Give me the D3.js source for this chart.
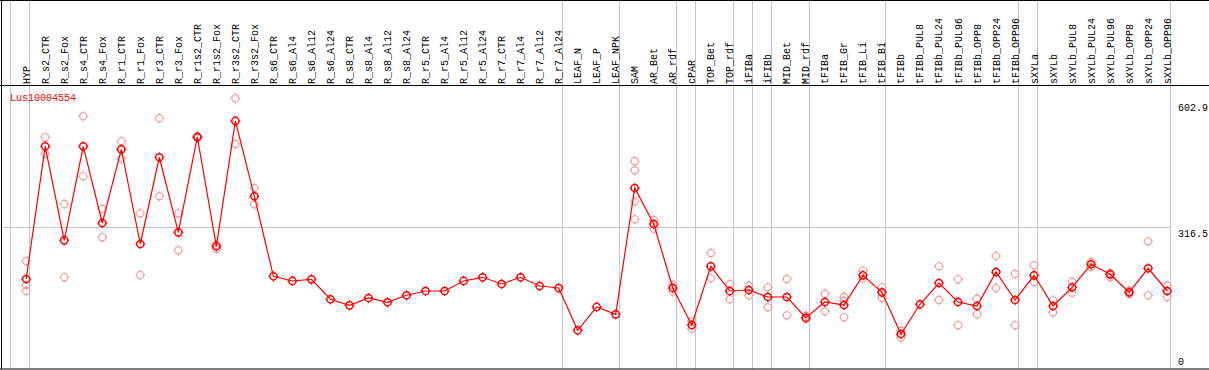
<!DOCTYPE html>
<html>
<head>
<meta charset="utf-8">
<script src="https://cdn.jsdelivr.net/npm/d3@7"></script>
<style>
  html, body { margin: 0; padding: 0; background: #fff; }
  svg { display: block; }
  text { font-family: "Liberation Mono", "DejaVu Sans Mono", monospace; font-size: 10px; }
</style>
</head>
<body>
<svg id="chart" width="1209" height="370"></svg>
<script>
(function () {
  // ==================
  // Data
  // ==================
  const GENE = 'Lus10004554';

  const groups = [
    ['HYP'],
    ['R_s2_CTR', 'R_s2_Fox', 'R_s4_CTR', 'R_s4_Fox', 'R_r1_CTR', 'R_r1_Fox', 'R_r3_CTR', 'R_r3_Fox',
     'R_r1s2_CTR', 'R_r1s2_Fox', 'R_r3s2_CTR', 'R_r3s2_Fox', 'R_s6_CTR', 'R_s6_Al4', 'R_s6_Al12', 'R_s6_Al24',
     'R_s8_CTR', 'R_s8_Al4', 'R_s8_Al12', 'R_s8_Al24', 'R_r5_CTR', 'R_r5_Al4', 'R_r5_Al12', 'R_r5_Al24',
     'R_r7_CTR', 'R_r7_Al4', 'R_r7_Al12', 'R_r7_Al24'],
    ['LEAF_N', 'LEAF_P', 'LEAF_NPK'],
    ['SAM', 'AR_Bet', 'AR_rdf'],
    ['cPAR'],
    ['TOP_Bet', 'TOP_rdf'],
    ['iFIBa'],
    ['iFIBb'],
    ['MID_Bet', 'MID_rdf'],
    ['tFIBa', 'tFIB_Gr', 'tFIB_Li', 'tFIB_Bi'],
    ['tFIBb', 'tFIBb_PUL8', 'tFIBb_PUL24', 'tFIBb_PUL96', 'tFIBb_OPP8', 'tFIBb_OPP24', 'tFIBb_OPP96'],
    ['sXYLa'],
    ['sXYLb', 'sXYLb_PUL8', 'sXYLb_PUL24', 'sXYLb_PUL96', 'sXYLb_OPP8', 'sXYLb_OPP24', 'sXYLb_OPP96']
  ];
  const categories = groups.flat();

  const meanValues = [
    201.2,
    496.2, 287.2, 496.2, 325.7, 489.5, 279.0, 471.8, 305.0,
    516.9, 273.9, 552.5, 385.1, 207.2, 196.8, 200.5, 156.1,
    142.7, 159.0, 149.4, 165.0, 174.5, 174.5, 196.8, 205.0,
    190.1, 205.0, 185.6, 181.2,
    87.2, 139.0, 122.7,
    403.5, 323.5, 181.2,
    98.9,
    229.4, 174.5,
    176.7,
    161.2,
    161.2, 115.2,
    150.1, 143.4, 209.4, 171.6,
    78.9, 145.0, 192.3, 150.1, 141.2, 216.8, 154.5,
    209.4,
    141.2, 182.7, 233.9, 211.6, 171.6, 225.0, 174.5
  ];

  const replicateValues = [
    [241.2, 187.9, 174.5],
    [516.2, 479.1], [367.9, 205.0], [562.9, 429.5], [356.8, 293.9], [507.3, 468.7], [347.3, 210.1], [558.5, 385.1], [347.3, 265.0],
    [519.1, 514.7], [277.5, 267.9], [602.9, 501.3], [403.5, 367.3], [], [], [], [],
    [], [], [], [], [], [], [], [],
    [], [], [], [],
    [], [], [],
    [463.5, 442.9, 373.9, 333.9], [332.4, 313.0], [188.5, 173.0],
    [107.2, 90.7],
    [259.0, 202.8], [190.1, 156.1],
    [185.6, 165.0],
    [182.7, 138.3],
    [201.2, 120.5], [119.6, 112.3],
    [168.5, 129.4], [161.2, 153.0, 116.1], [219.7, 201.9], [182.7, 159.0],
    [86.3, 70.7], [], [229.4, 154.5], [200.5, 98.3], [157.4, 122.7], [252.3, 181.2], [212.3, 98.3],
    [231.7, 194.5],
    [153.8, 127.2], [195.2, 170.7], [239.0, 227.9], [214.5, 205.0], [175.2, 167.9], [285.0, 165.0], [186.3, 161.2]
  ];

  const yTicks = [0, 316.5, 602.9];
  const Y_MAX = 602.9;

  // ==================
  // Layout
  // ==================
  const WIDTH = 1209;
  const HEADER_BOTTOM = 85.5;
  const PLOT_BOTTOM = 369;
  const PLOT_LEFT = 10.7;
  const PLOT_RIGHT = 1170.7;

  const svg = d3.select('#chart');

  const xScale = d3.scaleBand()
    .domain(categories)
    .range([PLOT_LEFT, PLOT_RIGHT])
    .padding(0);

  const yScale = d3.scaleLinear()
    .domain([0, Y_MAX])
    .range([369.5, 98.3]);

  const px = (c) => xScale(c) + xScale.bandwidth() * 0.815;
  const crisp = (v) => Math.floor(v) + 0.5;

  // grid: horizontal reference line at middle tick
  svg.append('line')
    .attr('x1', 1).attr('x2', crisp(PLOT_RIGHT))
    .attr('y1', crisp(yScale(316.5))).attr('y2', crisp(yScale(316.5)))
    .attr('stroke', '#c4c4c4');

  // group separators
  const boundaries = groups.map(g => xScale(g[0])).concat([PLOT_RIGHT]);
  svg.append('g').selectAll('line')
    .data(boundaries)
    .join('line')
    .attr('x1', d => crisp(d)).attr('x2', d => crisp(d))
    .attr('y1', 0).attr('y2', PLOT_BOTTOM)
    .attr('stroke', '#c4c4c4');

  // frame
  svg.append('line').attr('x1', 0).attr('x2', WIDTH).attr('y1', 0.5).attr('y2', 0.5).attr('stroke', '#000');
  svg.append('line').attr('x1', 0).attr('x2', WIDTH).attr('y1', HEADER_BOTTOM).attr('y2', HEADER_BOTTOM).attr('stroke', '#000');
  svg.append('line').attr('x1', 0).attr('x2', WIDTH).attr('y1', PLOT_BOTTOM).attr('y2', PLOT_BOTTOM).attr('stroke', '#000');
  svg.append('line').attr('x1', 1.5).attr('x2', 1.5).attr('y1', 0).attr('y2', PLOT_BOTTOM).attr('stroke', '#000');

  // column labels
  svg.append('g').selectAll('text')
    .data(categories)
    .join('text')
    .attr('transform', d => `translate(${px(d) + 3.5}, 84) rotate(-90)`)
    .attr('text-anchor', 'start')
    .attr('fill', '#000')
    .text(d => d);

  // y labels on the right
  svg.append('g').selectAll('text')
    .data(yTicks)
    .join('text')
    .attr('x', 1178)
    .attr('y', d => Math.min(Math.max(yScale(d) + 9.5, 111), 365))
    .attr('fill', '#000')
    .text(d => d === 0 ? '0' : d3.format('.1f')(d));

  // gene name
  svg.append('text')
    .attr('x', 10).attr('y', 101)
    .attr('fill', '#ff0000')
    .text(GENE);

  // circle with little ticks
  const R = 3.6;
  const ticksPath = (cx, cy) =>
    `M${cx - R - 1.5},${cy}h1.5M${cx + R},${cy}h1.5M${cx},${cy - R - 1.5}v1.5M${cx},${cy + R}v1.5`;

  // replicates
  const reps = [];
  replicateValues.forEach((vals, i) => vals.forEach(v => reps.push({ c: categories[i], v })));

  const repGroup = svg.append('g').attr('stroke', '#f09c9c').attr('fill', 'none').attr('stroke-width', 1.1);
  repGroup.selectAll('circle')
    .data(reps)
    .join('circle')
    .attr('cx', d => px(d.c))
    .attr('cy', d => yScale(d.v))
    .attr('r', R);
  repGroup.selectAll('path')
    .data(reps)
    .join('path')
    .attr('d', d => ticksPath(px(d.c), yScale(d.v)));

  // mean line
  const means = categories.map((c, i) => ({ c, v: meanValues[i] }));
  svg.append('path')
    .datum(means)
    .attr('fill', 'none')
    .attr('stroke', '#ff0000')
    .attr('stroke-width', 1.2)
    .attr('d', d3.line().x(d => px(d.c)).y(d => yScale(d.v)));

  const meanGroup = svg.append('g').attr('stroke', '#ff0000').attr('fill', 'none').attr('stroke-width', 1.5);
  meanGroup.selectAll('circle')
    .data(means)
    .join('circle')
    .attr('cx', d => px(d.c))
    .attr('cy', d => yScale(d.v))
    .attr('r', R);
  meanGroup.selectAll('path')
    .data(means)
    .join('path')
    .attr('stroke-width', 1.1)
    .attr('d', d => ticksPath(px(d.c), yScale(d.v)));
})();
</script>
</body>
</html>
